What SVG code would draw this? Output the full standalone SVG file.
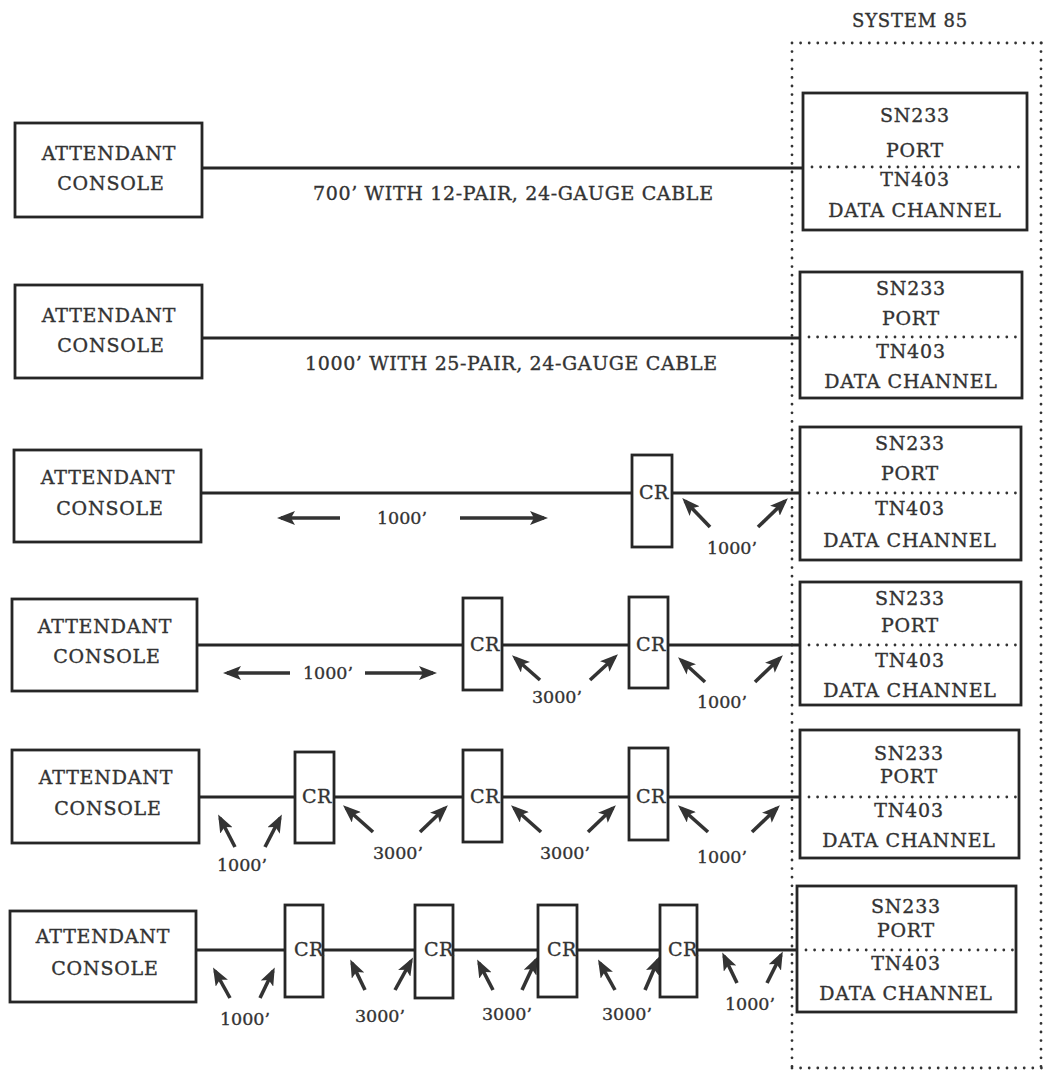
<svg xmlns="http://www.w3.org/2000/svg" width="1045" height="1072" viewBox="0 0 1045 1072">
  <style>
    text { font-family: "DejaVu Serif", "Liberation Serif", serif; fill: #333; stroke: #333; stroke-width: 0.35px; }
    .lbl { font-size: 19px; letter-spacing: 0.8px; text-anchor: middle; }
    .cable { font-size: 19px; text-anchor: middle; }
    .cr { font-size: 19px; letter-spacing: 0.5px; }
    .dist { font-size: 17.5px; text-anchor: middle; }
    .box { fill: #fff; stroke: #262626; stroke-width: 2.8; }
    .wire { stroke: #262626; stroke-width: 2.8; fill: none; }
    .dots { stroke: #333; stroke-width: 2.8; stroke-linecap: round; stroke-dasharray: 0 8.6; fill: none; }
    .arr { stroke: #333; stroke-width: 3.6; fill: none; marker-end: url(#head); }
  </style>
  <defs>
    <marker id="head" viewBox="0 0 18 14" markerWidth="18" markerHeight="14" refX="14" refY="7" orient="auto" markerUnits="userSpaceOnUse">
      <path d="M0,0 L18,7 L0,14 L4,7 z" fill="#333"/>
    </marker>
  </defs>
  <rect width="1045" height="1072" fill="#fff"/>

  <!-- System 85 cabinet outline -->
  <g id="system85">
    <text class="lbl" x="910" y="27" style="font-size:18px">SYSTEM 85</text>
    <path class="dots" d="M792,43 H1045 M792,43 V1068 M792,1068 H1045 M1041,43 V1068"/>
  </g>

  <!-- connecting cables and length markers -->
  <g id="connectors">
    <!-- row 1 -->
    <line class="wire" x1="202" y1="168" x2="803" y2="168"/>
    <text class="cable" x="513" y="200" textLength="400" lengthAdjust="spacing">700’ WITH 12-PAIR, 24-GAUGE CABLE</text>
    <!-- row 2 -->
    <line class="wire" x1="202" y1="338" x2="800" y2="338"/>
    <text class="cable" x="511" y="370" textLength="412" lengthAdjust="spacing">1000’ WITH 25-PAIR, 24-GAUGE CABLE</text>
    <!-- row 3 -->
    <path class="wire" d="M201,493 H632 M672,493 H800"/>
    <line class="arr" x1="340" y1="518" x2="281" y2="518"/>
    <line class="arr" x1="460" y1="518" x2="544" y2="518"/>
    <text class="dist" x="402" y="524">1000’</text>
    <line class="arr" x1="710" y1="527" x2="685" y2="501"/>
    <line class="arr" x1="758" y1="527" x2="785" y2="501"/>
    <text class="dist" x="732" y="554">1000’</text>
    <!-- row 4 -->
    <path class="wire" d="M197,645 H463 M502,645 H629 M668,645 H800"/>
    <line class="arr" x1="290" y1="673" x2="227" y2="673"/>
    <line class="arr" x1="365" y1="673" x2="433" y2="673"/>
    <text class="dist" x="328" y="679">1000’</text>
    <line class="arr" x1="540" y1="680" x2="515" y2="658"/>
    <line class="arr" x1="590" y1="680" x2="615" y2="657"/>
    <text class="dist" x="557" y="703">3000’</text>
    <line class="arr" x1="705" y1="682" x2="681" y2="660"/>
    <line class="arr" x1="755" y1="682" x2="780" y2="658"/>
    <text class="dist" x="722" y="708">1000’</text>
    <!-- row 5 -->
    <path class="wire" d="M199,797 H295 M334,797 H463 M502,797 H629 M668,797 H800"/>
    <line class="arr" x1="235" y1="847" x2="220" y2="818"/>
    <line class="arr" x1="265" y1="847" x2="280" y2="818"/>
    <text class="dist" x="242" y="871">1000’</text>
    <line class="arr" x1="373" y1="832" x2="346" y2="808"/>
    <line class="arr" x1="420" y1="832" x2="445" y2="808"/>
    <text class="dist" x="398" y="859">3000’</text>
    <line class="arr" x1="541" y1="832" x2="514" y2="808"/>
    <line class="arr" x1="588" y1="832" x2="613" y2="808"/>
    <text class="dist" x="565" y="859">3000’</text>
    <line class="arr" x1="708" y1="832" x2="681" y2="808"/>
    <line class="arr" x1="752" y1="832" x2="777" y2="808"/>
    <text class="dist" x="722" y="863">1000’</text>
    <!-- row 6 -->
    <path class="wire" d="M196,950 H285 M323,950 H415 M453,950 H538 M577,950 H660 M697,950 H797"/>
    <line class="arr" x1="230" y1="998" x2="215" y2="971"/>
    <line class="arr" x1="260" y1="998" x2="273" y2="971"/>
    <text class="dist" x="245" y="1025">1000’</text>
    <line class="arr" x1="365" y1="990" x2="352" y2="963"/>
    <line class="arr" x1="395" y1="990" x2="411" y2="961"/>
    <text class="dist" x="380" y="1022">3000’</text>
    <line class="arr" x1="493" y1="990" x2="479" y2="963"/>
    <line class="arr" x1="522" y1="990" x2="536" y2="960"/>
    <text class="dist" x="507" y="1020">3000’</text>
    <line class="arr" x1="615" y1="990" x2="600" y2="963"/>
    <line class="arr" x1="645" y1="990" x2="658" y2="960"/>
    <text class="dist" x="627" y="1020">3000’</text>
    <line class="arr" x1="737" y1="983" x2="724" y2="956"/>
    <line class="arr" x1="767" y1="983" x2="781" y2="955"/>
    <text class="dist" x="750" y="1010">1000’</text>
  </g>

  <!-- attendant consoles -->
  <g id="console1"><rect class="box" x="15" y="123" width="187" height="94"/><text class="lbl" x="109" y="160">ATTENDANT</text><text class="lbl" x="111" y="190">CONSOLE</text></g>
  <g id="console2"><rect class="box" x="15" y="285" width="187" height="93"/><text class="lbl" x="109" y="322">ATTENDANT</text><text class="lbl" x="111" y="352">CONSOLE</text></g>
  <g id="console3"><rect class="box" x="14" y="450" width="187" height="92"/><text class="lbl" x="108" y="484">ATTENDANT</text><text class="lbl" x="110" y="515">CONSOLE</text></g>
  <g id="console4"><rect class="box" x="12" y="599" width="185" height="92"/><text class="lbl" x="105" y="633">ATTENDANT</text><text class="lbl" x="107" y="663">CONSOLE</text></g>
  <g id="console5"><rect class="box" x="12" y="750" width="187" height="93"/><text class="lbl" x="106" y="784">ATTENDANT</text><text class="lbl" x="108" y="815">CONSOLE</text></g>
  <g id="console6"><rect class="box" x="10" y="911" width="186" height="91"/><text class="lbl" x="103" y="943">ATTENDANT</text><text class="lbl" x="105" y="975">CONSOLE</text></g>

  <!-- channel repeaters -->
  <g id="cr3a"><rect class="box" x="632" y="455" width="40" height="92"/><text class="cr" x="639" y="499">CR</text></g>
  <g id="cr4a"><rect class="box" x="463" y="598" width="39" height="92"/><text class="cr" x="470" y="651">CR</text></g>
  <g id="cr4b"><rect class="box" x="629" y="597" width="39" height="91"/><text class="cr" x="636" y="651">CR</text></g>
  <g id="cr5a"><rect class="box" x="295" y="752" width="39" height="91"/><text class="cr" x="302" y="803">CR</text></g>
  <g id="cr5b"><rect class="box" x="463" y="750" width="39" height="92"/><text class="cr" x="470" y="803">CR</text></g>
  <g id="cr5c"><rect class="box" x="629" y="748" width="39" height="92"/><text class="cr" x="636" y="803">CR</text></g>
  <g id="cr6a"><rect class="box" x="285" y="905" width="38" height="92"/><text class="cr" x="294" y="956">CR</text></g>
  <g id="cr6b"><rect class="box" x="415" y="905" width="38" height="93"/><text class="cr" x="424" y="956">CR</text></g>
  <g id="cr6c"><rect class="box" x="538" y="905" width="39" height="92"/><text class="cr" x="547" y="956">CR</text></g>
  <g id="cr6d"><rect class="box" x="660" y="905" width="37" height="92"/><text class="cr" x="668" y="956">CR</text></g>

  <!-- port / data channel boards -->
  <g id="port1"><rect class="box" x="803" y="93" width="224" height="137"/><line class="dots" x1="812" y1="167" x2="1024" y2="167"/>
    <text class="lbl" x="915" y="122">SN233</text><text class="lbl" x="915" y="157">PORT</text><text class="lbl" x="915" y="186">TN403</text><text class="lbl" x="915" y="217">DATA CHANNEL</text></g>
  <g id="port2"><rect class="box" x="800" y="272" width="222" height="126"/><line class="dots" x1="809" y1="337" x2="1020" y2="337"/>
    <text class="lbl" x="911" y="295">SN233</text><text class="lbl" x="911" y="325">PORT</text><text class="lbl" x="911" y="358">TN403</text><text class="lbl" x="911" y="388">DATA CHANNEL</text></g>
  <g id="port3"><rect class="box" x="800" y="427" width="221" height="133"/><line class="dots" x1="809" y1="493" x2="1019" y2="493"/>
    <text class="lbl" x="910" y="450">SN233</text><text class="lbl" x="910" y="480">PORT</text><text class="lbl" x="910" y="515">TN403</text><text class="lbl" x="910" y="547">DATA CHANNEL</text></g>
  <g id="port4"><rect class="box" x="800" y="582" width="221" height="123"/><line class="dots" x1="809" y1="645" x2="1019" y2="645"/>
    <text class="lbl" x="910" y="605">SN233</text><text class="lbl" x="910" y="632">PORT</text><text class="lbl" x="910" y="667">TN403</text><text class="lbl" x="910" y="697">DATA CHANNEL</text></g>
  <g id="port5"><rect class="box" x="800" y="730" width="219" height="128"/><line class="dots" x1="809" y1="797" x2="1017" y2="797"/>
    <text class="lbl" x="909" y="760">SN233</text><text class="lbl" x="909" y="783">PORT</text><text class="lbl" x="909" y="817">TN403</text><text class="lbl" x="909" y="847">DATA CHANNEL</text></g>
  <g id="port6"><rect class="box" x="797" y="886" width="219" height="126"/><line class="dots" x1="806" y1="950" x2="1014" y2="950"/>
    <text class="lbl" x="906" y="913">SN233</text><text class="lbl" x="906" y="937">PORT</text><text class="lbl" x="906" y="970">TN403</text><text class="lbl" x="906" y="1000">DATA CHANNEL</text></g>
</svg>
